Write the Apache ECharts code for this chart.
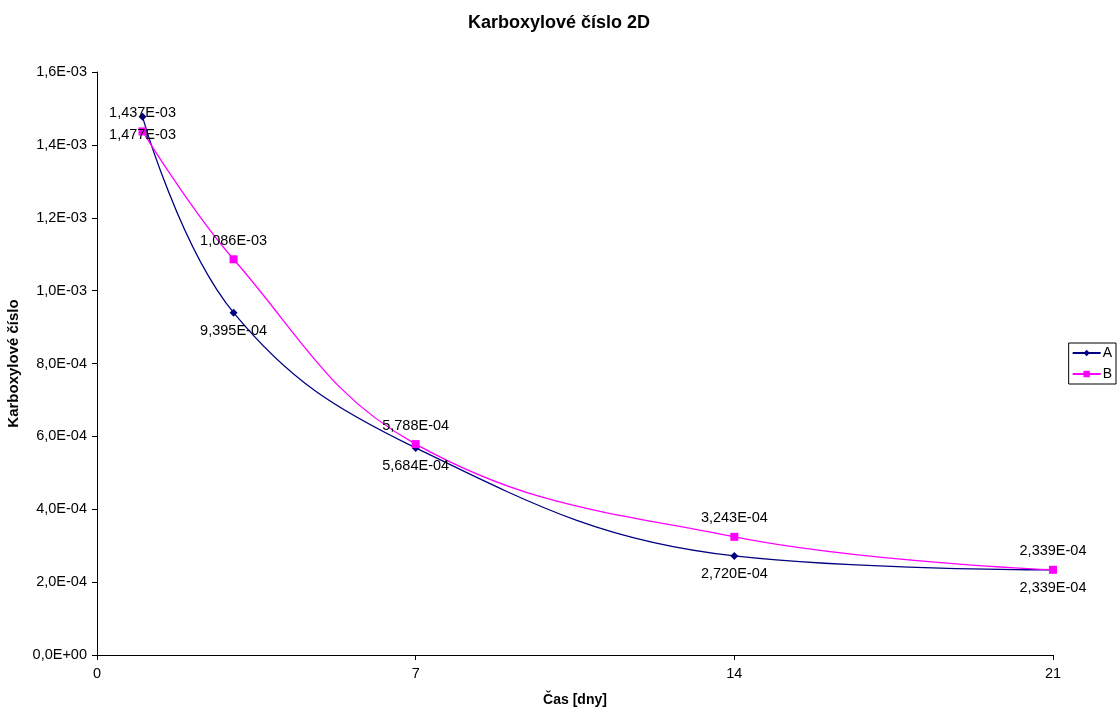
<!DOCTYPE html>
<html><head><meta charset="utf-8">
<script src="https://cdn.jsdelivr.net/npm/echarts@6/dist/echarts.min.js"></script>
<style>html,body{margin:0;padding:0;background:#fff}#c{width:1118px;height:711px}</style>
</head><body><div id="c"></div>
<script>
const days = [1, 3, 7, 14, 21];
const seriesA = [1.477e-3, 9.395e-4, 5.684e-4, 2.720e-4, 2.339e-4];
const seriesB = [1.437e-3, 1.086e-3, 5.788e-4, 3.243e-4, 2.339e-4];
const xTicks = [0, 7, 14, 21];

function sci(v, d) {
  if (v === 0) return (0).toFixed(d).replace('.', ',') + 'E+00';
  const s = v.toExponential(d);
  const [m, e] = s.split('e');
  const en = parseInt(e, 10);
  const es = (en < 0 ? '-' : '+') + String(Math.abs(en)).padStart(2, '0');
  return m.replace('.', ',') + 'E' + es;
}
const font = '"Liberation Sans", Arial, sans-serif';
const fs = 14.5;
const chart = echarts.init(document.getElementById('c'), null, {renderer: 'canvas'});
chart.setOption({
  animation: false,
  backgroundColor: '#fff',
  textStyle: {fontFamily: font},
  title: {text: 'Karboxylové číslo 2D', left: 'center', top: 9,
    textStyle: {fontFamily: font, fontSize: 18, fontWeight: 'bold', color: '#000'}},
  grid: {left: 97, right: 65, top: 72, bottom: 56, containLabel: false, outerBoundsMode: 'none'},
  legend: {
    orient: 'vertical', right: 2, top: 343,
    data: ['A', 'B'],
    borderColor: '#000', borderWidth: 1, padding: [3, 4, 3, 3],
    itemWidth: 28, itemHeight: 8, itemGap: 7,
    textStyle: {fontFamily: font, fontSize: 14, color: '#000', padding: [0, 0, 0, -3]}
  },
  xAxis: {
    type: 'value', min: 0, max: 21, interval: 7,
    name: 'Čas [dny]', nameLocation: 'middle', nameGap: 38,
    nameTextStyle: {fontFamily: font, fontSize: 14, fontWeight: 'bold', color: '#000'},
    axisLine: {lineStyle: {color: '#000', width: 1}},
    axisTick: {show: true, length: 5, lineStyle: {color: '#000'}},
    axisLabel: {fontFamily: font, fontSize: fs, color: '#000', margin: 11,
      formatter: v => xTicks.includes(v) ? String(v) : ''},
    splitLine: {show: false}
  },
  yAxis: {
    type: 'value', min: 0, max: 1.6e-3, interval: 2e-4,
    name: 'Karboxylové číslo', nameLocation: 'middle', nameGap: 66, nameRotate: 90,
    nameTextStyle: {fontFamily: font, fontSize: 15, fontWeight: 'bold', color: '#000'},
    axisLine: {show: true, lineStyle: {color: '#000', width: 1}},
    axisTick: {show: true, length: 5, lineStyle: {color: '#000'}},
    axisLabel: {fontFamily: font, fontSize: fs, color: '#000', margin: 10,
      formatter: v => sci(v, 1)},
    splitLine: {show: false}
  },
  series: [
    {
      name: 'A', type: 'line', smooth: 0.4,
      data: days.map((d, i) => [d, seriesA[i]]),
      symbol: 'diamond', symbolSize: 8,
      itemStyle: {color: '#000080'},
      lineStyle: {color: '#000080', width: 1.3},
      label: {show: true, position: 'bottom', distance: 7,
        fontFamily: font, fontSize: fs, color: '#000',
        formatter: p => sci(p.value[1], 3)}
    },
    {
      name: 'B', type: 'line', smooth: 0.4,
      data: days.map((d, i) => [d, seriesB[i]]),
      symbol: 'rect', symbolSize: 8,
      itemStyle: {color: '#FF00FF'},
      lineStyle: {color: '#FF00FF', width: 1.3},
      label: {show: true, position: 'top', distance: 7,
        fontFamily: font, fontSize: fs, color: '#000',
        formatter: p => sci(p.value[1], 3)}
    }
  ]
});
</script>
</body></html>
